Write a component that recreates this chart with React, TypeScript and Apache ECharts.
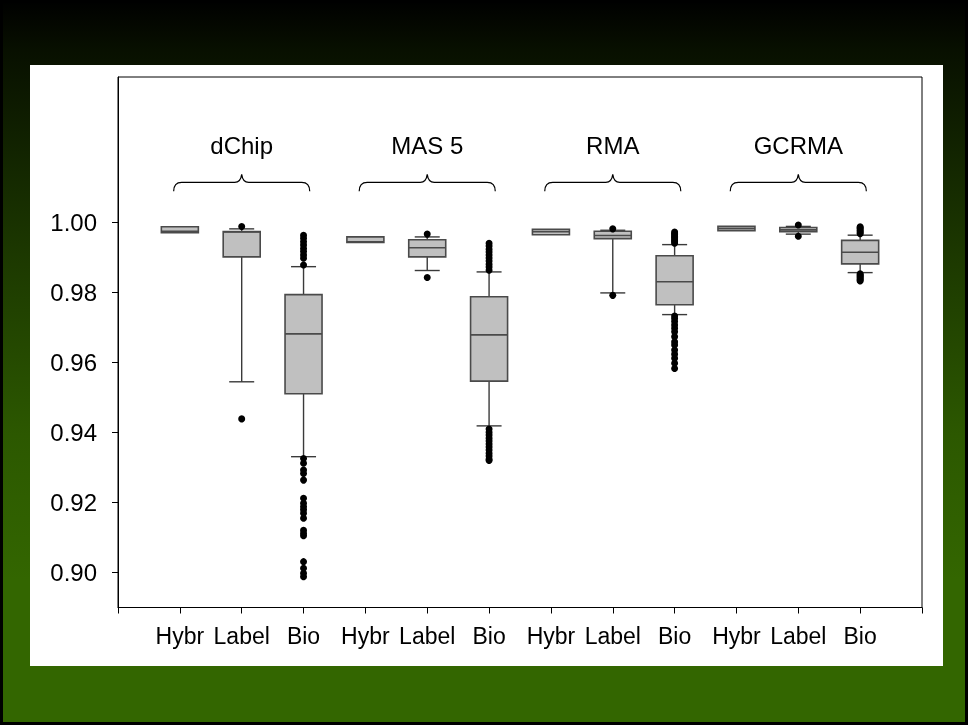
import React, { useEffect, useRef } from "react";
import * as echarts from "echarts";

// ---------- data ----------
const CATEGORIES = ["Hybr", "Label", "Bio", "Hybr", "Label", "Bio", "Hybr", "Label", "Bio", "Hybr", "Label", "Bio"];
const GROUPS = ["dChip", "MAS 5", "RMA", "GCRMA"];
const Y_TICKS = [0.9, 0.92, 0.94, 0.96, 0.98, 1.0];

// [min, q1, median, q3, max] for each category (left to right)
const BOX_STATS = [
  [0.9971, 0.9971, 0.9975, 0.9988, 0.9988],
  [0.9545, 0.9902, 0.9973, 0.9974, 0.9982],
  [0.9331, 0.9511, 0.9682, 0.9794, 0.9874],
  [0.9943, 0.9943, 0.9945, 0.9959, 0.9959],
  [0.9863, 0.9902, 0.9928, 0.9951, 0.9959],
  [0.9419, 0.9547, 0.9679, 0.9788, 0.9859],
  [0.9965, 0.9965, 0.9974, 0.9981, 0.9981],
  [0.9799, 0.9954, 0.9963, 0.9975, 0.9978],
  [0.9737, 0.9765, 0.9831, 0.9905, 0.9937],
  [0.9977, 0.9977, 0.9983, 0.9989, 0.9989],
  [0.9967, 0.9974, 0.9979, 0.9986, 0.9989],
  [0.9857, 0.9882, 0.9915, 0.9949, 0.9964],
];

const OUT_DCHIP_LABEL = [0.9989, 0.9439];
const OUT_DCHIP_BIO = [
  0.9964, 0.9955, 0.9945, 0.9936, 0.9926, 0.9917, 0.9907, 0.9898, 0.9879,
  0.9326, 0.9312, 0.9293, 0.9283, 0.9264, 0.9212, 0.9198, 0.9188, 0.9179, 0.9169, 0.9155,
  0.9121, 0.9112, 0.9105, 0.9031, 0.9012, 0.8998, 0.8988,
];
const OUT_MAS_LABEL = [0.9967, 0.9843];
const OUT_MAS_BIO = [
  0.9941, 0.9933, 0.9924, 0.9916, 0.9907, 0.9899, 0.989, 0.9881, 0.9873, 0.9864,
  0.941, 0.9401, 0.9393, 0.9384, 0.9376, 0.9367, 0.9359, 0.935, 0.9341, 0.9333, 0.9324, 0.932,
];
const OUT_RMA_LABEL = [0.9982, 0.9792];
const OUT_RMA_BIO = [
  0.9973, 0.9969, 0.9965, 0.9961, 0.9957, 0.9953, 0.9949, 0.9945, 0.9941,
  0.9733, 0.9726, 0.9717, 0.9707, 0.9698, 0.9688, 0.9674, 0.9659, 0.965, 0.9636, 0.9624,
  0.9612, 0.9598, 0.9583,
];
const OUT_GCRMA_LABEL = [0.9993, 0.9961];
const OUT_GCRMA_BIO = [
  0.9988, 0.9985, 0.9982, 0.9978, 0.9975, 0.9971, 0.9968,
  0.9854, 0.9851, 0.9848, 0.9845, 0.9842, 0.9839, 0.9836, 0.9833,
];

// outliers by category index (0-based)
const OUTLIERS: number[][] = [
  [], OUT_DCHIP_LABEL, OUT_DCHIP_BIO,
  [], OUT_MAS_LABEL, OUT_MAS_BIO,
  [], OUT_RMA_LABEL, OUT_RMA_BIO,
  [], OUT_GCRMA_LABEL, OUT_GCRMA_BIO,
];

// ---------- style constants ----------
const FONT = "'Liberation Sans', Arial, Helvetica, sans-serif";
const Y_MIN = 0.89;
const Y_MAX = 1.0416;
const BRACE_Y = 1.0115;
const TITLE_Y = 1.0219;

export default function App() {
  const ref = useRef<HTMLDivElement>(null);

  useEffect(() => {
    if (!ref.current) return;
    const chart = echarts.init(ref.current, null, { renderer: "svg" });

    const boxData = BOX_STATS.map((s, i) => [i + 1, ...s]);
    const outlierData: number[][] = [];
    OUTLIERS.forEach((arr, i) => arr.forEach((v) => outlierData.push([i + 1, v])));
    const groupData = GROUPS.map((g, i) => [i * 3 + 2, BRACE_Y, TITLE_Y]);

    const bg = new echarts.graphic.LinearGradient(0, 0, 0, 1, [
      { offset: 0, color: "#000000" },
      { offset: 0.07, color: "#081000" },
      { offset: 0.35, color: "#1c3800" },
      { offset: 0.6, color: "#2c5800" },
      { offset: 0.8, color: "#336600" },
      { offset: 1, color: "#336600" },
    ]);

    chart.setOption({
      animation: false,
      backgroundColor: "transparent",
      graphic: [
        {
          type: "rect",
          z: -10,
          shape: { x: 0, y: 0, width: 968, height: 725 },
          style: { fill: bg, stroke: "#000", lineWidth: 6 },
        },
        {
          type: "rect",
          z: -9,
          shape: { x: 30, y: 65, width: 913, height: 601 },
          style: { fill: "#ffffff" },
        },
      ],
      grid: {
        left: 118,
        right: 46,
        top: 77,
        bottom: 117.5,
        show: true,
        borderColor: "#000",
        borderWidth: 1,
        backgroundColor: "transparent",
      },
      xAxis: {
        type: "value",
        min: 0,
        max: 13,
        interval: 1,
        splitLine: { show: false },
        axisLine: { show: true, lineStyle: { color: "#000", width: 1 } },
        axisTick: { show: true, length: 6, lineStyle: { color: "#000" } },
        axisLabel: {
          show: true,
          margin: 17,
          fontSize: 23,
          fontFamily: FONT,
          color: "#000",
          formatter: (v: number) => (v >= 1 && v <= 12 ? CATEGORIES[Math.round(v) - 1] : ""),
        },
      },
      yAxis: {
        type: "value",
        min: Y_MIN,
        max: Y_MAX,
        splitLine: { show: false },
        axisLine: { show: true, lineStyle: { color: "#000", width: 1 } },
        axisTick: { show: true, length: 6, customValues: Y_TICKS, lineStyle: { color: "#000" } },
        axisLabel: {
          show: true,
          customValues: Y_TICKS,
          margin: 21,
          fontSize: 24,
          fontFamily: FONT,
          color: "#000",
          formatter: (v: number) => v.toFixed(2),
        },
      },
      series: [
        {
          type: "custom",
          name: "groups",
          data: groupData,
          encode: { x: 0, y: 1 },
          clip: false,
          z: 4,
          silent: true,
          renderItem: (params: any, api: any) => {
            const x = api.value(0);
            const [cx, cy] = api.coord([x, api.value(1)]);
            const ty = api.coord([x, api.value(2)])[1];
            const unit = api.size([1, 0])[0];
            const hw = unit * 1.1;
            const r = 8;
            const d =
              `M ${cx - hw} ${cy + 9} Q ${cx - hw} ${cy} ${cx - hw + r} ${cy} ` +
              `L ${cx - 7} ${cy} Q ${cx - 1} ${cy} ${cx} ${cy - 8} ` +
              `Q ${cx + 1} ${cy} ${cx + 7} ${cy} ` +
              `L ${cx + hw - r} ${cy} Q ${cx + hw} ${cy} ${cx + hw} ${cy + 9}`;
            return {
              type: "group",
              children: [
                {
                  type: "path",
                  shape: { pathData: d },
                  style: { fill: "none", stroke: "#000", lineWidth: 1.2 },
                },
                {
                  type: "text",
                  x: cx,
                  y: ty,
                  style: {
                    text: GROUPS[params.dataIndex],
                    fontSize: 24,
                    fontFamily: FONT,
                    fill: "#000",
                    align: "center",
                    verticalAlign: "middle",
                  },
                },
              ],
            };
          },
        },
        {
          type: "custom",
          name: "boxes",
          data: boxData,
          encode: { x: 0, y: [1, 2, 3, 4, 5] },
          z: 2,
          silent: true,
          renderItem: (params: any, api: any) => {
            const x = api.value(0);
            const cx = api.coord([x, api.value(1)])[0];
            const yMin = api.coord([x, api.value(1)])[1];
            const yQ1 = api.coord([x, api.value(2)])[1];
            const yMed = api.coord([x, api.value(3)])[1];
            const yQ3 = api.coord([x, api.value(4)])[1];
            const yMax = api.coord([x, api.value(5)])[1];
            const bw = 37;
            const cw = 25;
            const wStyle = { stroke: "#3a3a3a", lineWidth: 1.4 };
            const children: any[] = [];
            if (yMin - yQ1 > 0.5) {
              children.push({ type: "line", shape: { x1: cx, y1: yQ1, x2: cx, y2: yMin }, style: wStyle });
              children.push({ type: "line", shape: { x1: cx - cw / 2, y1: yMin, x2: cx + cw / 2, y2: yMin }, style: wStyle });
            }
            if (yQ3 - yMax > 0.5) {
              children.push({ type: "line", shape: { x1: cx, y1: yQ3, x2: cx, y2: yMax }, style: wStyle });
              children.push({ type: "line", shape: { x1: cx - cw / 2, y1: yMax, x2: cx + cw / 2, y2: yMax }, style: wStyle });
            }
            children.push({
              type: "rect",
              shape: { x: cx - bw / 2, y: yQ3, width: bw, height: Math.max(yQ1 - yQ3, 1) },
              style: { fill: "#c0c0c0", stroke: "#4a4a4a", lineWidth: 1.6 },
            });
            children.push({
              type: "line",
              shape: { x1: cx - bw / 2, y1: yMed, x2: cx + bw / 2, y2: yMed },
              style: { stroke: "#4a4a4a", lineWidth: 1.6 },
            });
            return { type: "group", children };
          },
        },
        {
          type: "scatter",
          name: "outliers",
          data: outlierData,
          symbol: "circle",
          symbolSize: 7,
          z: 3,
          silent: true,
          itemStyle: { color: "#000", opacity: 1 },
        },
      ],
    });

    return () => chart.dispose();
  }, []);

  return (
    <div style={{ position: "fixed", left: 0, top: 0, width: 968, height: 725 }}>
      <div ref={ref} style={{ width: 968, height: 725 }} />
    </div>
  );
}
